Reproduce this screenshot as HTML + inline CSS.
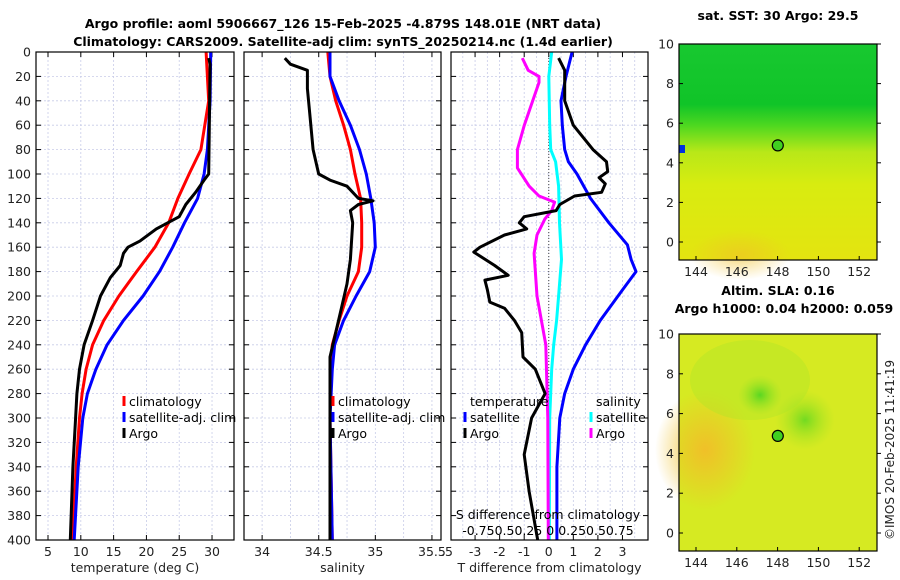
<!DOCTYPE html>
<html><head><meta charset="utf-8"><style>
html,body{margin:0;padding:0;background:#fff;}
svg{display:block;font-family:"DejaVu Sans","Liberation Sans",sans-serif;}
</style></head><body>
<svg id="c" width="900" height="580" viewBox="0 0 900 580">
<text x="343" y="28" font-size="12.5" font-weight="bold" text-anchor="middle">Argo profile: aoml 5906667_126 15-Feb-2025 -4.879S 148.01E (NRT data)</text>
<text x="343" y="46" font-size="12.5" font-weight="bold" text-anchor="middle">Climatology: CARS2009. Satellite-adj clim: synTS_20250214.nc (1.4d earlier)</text>
<text x="778" y="20" font-size="12.5" font-weight="bold" text-anchor="middle">sat. SST: 30 Argo: 29.5</text>
<text x="778" y="295" font-size="12.5" font-weight="bold" text-anchor="middle">Altim. SLA: 0.16</text>
<text x="784" y="313" font-size="12.5" font-weight="bold" text-anchor="middle">Argo h1000: 0.04 h2000: 0.059</text>
<text x="0" y="0" font-size="12" transform="translate(894,540) rotate(-90)" fill="#222">©IMOS 20-Feb-2025 11:41:19</text>
<g id="g"></g>
</svg>
<script>
const depthTicks=[0,20,40,60,80,100,120,140,160,180,200,220,240,260,280,300,320,340,360,380,400];
const tempTicks=[5,10,15,20,25,30];
const salTicks=[34,34.5,35,35.5];
const tdTicks=[-3,-2,-1,0,1,2,3];
const sdTickLabels=["-0.75","0.5","0.25","0","0.25","0.5","0.75"];
// temperature profiles [depth,value]
const tClimDepth=[0,40,80,100,120,140,160,180,200,220,240,260,280,300,340,400];
const tClimVal=[29.1,29.5,28.3,26.5,24.8,23.4,21.3,18.5,15.8,13.5,11.8,10.8,10.2,9.8,9.3,8.7];
const tSatDepth=[0,40,80,100,120,140,160,180,200,220,240,260,280,300,340,400];
const tSatVal=[29.8,29.7,29.3,28.8,27.8,25.8,24.0,22.0,19.5,16.5,14.0,12.3,11.0,10.3,9.6,9.0];
const tArgoDepth=[5,10,100,105,115,125,135,145,155,160,165,175,185,200,220,240,260,280,300,340,400];
const tArgoVal=[29.5,29.7,29.5,28.8,27.5,26.0,25.0,21.5,19.0,17.2,16.5,16.0,14.5,13.0,11.8,10.5,9.8,9.4,9.2,8.8,8.4];
// salinity
const sClimDepth=[0,20,40,60,80,100,120,140,160,180,200,220,240,260,300,400];
const sClimVal=[34.58,34.6,34.65,34.72,34.78,34.82,34.87,34.88,34.88,34.85,34.75,34.68,34.62,34.6,34.6,34.62];
const sSatDepth=[0,20,40,60,80,100,120,140,160,180,200,220,240,260,300,400];
const sSatVal=[34.6,34.6,34.68,34.78,34.86,34.92,34.96,34.99,35.0,34.95,34.83,34.72,34.64,34.62,34.6,34.62];
const sArgoDepth=[5,10,15,30,50,80,100,105,110,120,122,125,130,140,170,190,210,230,250,280,400];
const sArgoVal=[34.2,34.25,34.4,34.4,34.42,34.45,34.5,34.6,34.75,34.85,34.98,34.85,34.78,34.8,34.78,34.75,34.7,34.65,34.6,34.6,34.6];
// differences
const dTSatDepth=[0,20,40,60,80,90,100,120,140,158,170,180,195,220,240,260,280,300,340,400];
const dTSatVal=[0.95,0.7,0.5,0.55,0.65,0.8,1.15,1.7,2.45,3.2,3.35,3.55,3.0,2.1,1.5,1.0,0.65,0.45,0.33,0.33];
const dTArgoDepth=[5,15,40,60,80,90,98,103,108,115,118,125,130,135,140,145,150,160,164,175,183,187,195,205,210,220,230,250,260,280,300,330,360,400];
const dTArgoVal=[0.4,0.65,0.65,1.0,1.8,2.35,2.4,2.05,2.3,2.15,1.05,0.45,0.3,-1.0,-1.2,-0.9,-1.8,-2.8,-3.05,-2.2,-1.65,-2.6,-2.5,-2.4,-1.8,-1.4,-1.1,-1.05,-0.55,-0.15,-0.7,-1.0,-0.8,-0.45];
const dSSatDepth=[0,20,60,80,90,110,140,170,200,220,240,260,300,400];
const dSSatVal=[0.03,0.0,0.01,0.02,0.07,0.1,0.11,0.13,0.1,0.08,0.05,0.03,0.01,0.005];
const dSArgoDepth=[5,15,20,25,60,80,95,110,118,123,130,137,150,165,200,240,300,400];
const dSArgoVal=[-0.27,-0.21,-0.1,-0.1,-0.25,-0.32,-0.32,-0.2,-0.1,0.06,0.03,-0.04,-0.12,-0.15,-0.12,-0.03,-0.01,-0.005];
const mapLonTicks=[144,146,148,150,152];
const mapLatTicks=[0,2,4,6,8,10];
const argoLon=148.01, argoLat=-4.879;

const NS="http://www.w3.org/2000/svg";
const G=document.getElementById('g');
function mk(t,a,p){const e=document.createElementNS(NS,t);for(const k in a)e.setAttribute(k,a[k]);(p||G).appendChild(e);return e;}
const Y0=52,Y1=540;
const yD=d=>Y0+(Y1-Y0)*d/400;
const panels=[
 {x0:36,x1:234,min:3.17,max:33.35,ticks:tempTicks,label:'temperature (deg C)',name:'temperature'},
 {x0:244,x1:441,min:33.84,max:35.58,ticks:salTicks,label:'salinity',name:'salinity'},
 {x0:451,x1:648,min:-3.98,max:4.04,ticks:tdTicks,label:'T difference from climatology',name:'difference'}
];
function xf(p){return v=>p.x0+(p.x1-p.x0)*(v-p.min)/(p.max-p.min);}
panels.forEach((p,i)=>{
 const X=xf(p);
 const g=mk('g',{});
 
 
 // grid
 const gridX=i==0?[5,10,15,20,25,30]:i==1?[34,34.25,34.5,34.75,35,35.25,35.5]:[-3.5,-3,-2.5,-2,-1.5,-1,-0.5,0,0.5,1,1.5,2,2.5,3,3.5];
 gridX.forEach(v=>{const l=mk('line',{x1:X(v),x2:X(v),y1:Y0,y2:Y1,stroke:'#c8cce8','stroke-width':0.8,'stroke-dasharray':'2,2'},g);});
 depthTicks.forEach(d=>{const l=mk('line',{x1:p.x0,x2:p.x1,y1:yD(d),y2:yD(d),stroke:'#c8cce8','stroke-width':0.8,'stroke-dasharray':'2,2'},g);});
 // ticks
 depthTicks.forEach(d=>{mk('line',{x1:p.x0,x2:p.x0+5,y1:yD(d),y2:yD(d),stroke:'#000'},g);mk('line',{x1:p.x1-5,x2:p.x1,y1:yD(d),y2:yD(d),stroke:'#000'},g);
  if(i==0){const t=mk('text',{x:p.x0-5,y:yD(d)+4.5,'font-size':12.5,'text-anchor':'end',fill:'#222'},g);t.textContent=d;}});
 p.ticks.forEach(v=>{mk('line',{x1:X(v),x2:X(v),y1:Y0,y2:Y0+5,stroke:'#000'},g);mk('line',{x1:X(v),x2:X(v),y1:Y1-5,y2:Y1,stroke:'#000'},g);
  const t=mk('text',{x:X(v),y:556,'font-size':12.5,'text-anchor':'middle',fill:'#222'},g);t.textContent=v;});
 const xl=mk('text',{x:(p.x0+p.x1)/2,y:572,'font-size':12.5,'text-anchor':'middle',fill:'#222'},g);xl.textContent=p.label;
 
 p.X=X;p.g=g;
});
// left edge label of diff axis
{const t=mk('text',{x:447,y:556,'font-size':12.5,'text-anchor':'middle',fill:'#222'});t.textContent='.5';}
function line(ds,vs,X,col,name,w){
 const pts=ds.map((d,k)=>X(vs[k]).toFixed(1)+','+yD(d).toFixed(1)).join(' ');
 const e=mk('polyline',{points:pts,fill:'none',stroke:col,'stroke-width':w||3,'stroke-linejoin':'round'});
 
}
const XT=panels[0].X,XS=panels[1].X,XD=panels[2].X;
const XSd=v=>XD(0)+v*98;
line(tClimDepth,tClimVal,XT,'#f00','temp-climatology-line');
line(tSatDepth,tSatVal,XT,'#00f','temp-satellite-line');
line(tArgoDepth,tArgoVal,XT,'#000','temp-argo-line');
line(sClimDepth,sClimVal,XS,'#f00','sal-climatology-line');
line(sSatDepth,sSatVal,XS,'#00f','sal-satellite-line');
line(sArgoDepth,sArgoVal,XS,'#000','sal-argo-line');
{const z=mk('line',{x1:XD(0),x2:XD(0),y1:Y0,y2:Y1,stroke:'#444','stroke-width':1,'stroke-dasharray':'1,2'});}
line(dTSatDepth,dTSatVal,XD,'#00f','tdiff-satellite-line');
line(dSSatDepth,dSSatVal,XSd,'#0ff','sdiff-satellite-line');
line(dSArgoDepth,dSArgoVal,XSd,'#f0f','sdiff-argo-line');
line(dTArgoDepth,dTArgoVal,XD,'#000','tdiff-argo-line');
// panel frames
panels.forEach(p=>{const r=mk('rect',{x:p.x0,y:Y0,width:p.x1-p.x0,height:Y1-Y0,fill:'none',stroke:'#000','stroke-width':1.2});});
// legends
function leg(x,y,col,txt,name){const m=mk('line',{x1:x,x2:x,y1:y-10,y2:y,stroke:col,'stroke-width':3});
 const t=mk('text',{x:x+5,y:y,'font-size':12.5,fill:'#000'});t.textContent=txt;}
leg(124,406,'#f00','climatology','legend-climatology');
leg(124,422,'#00f','satellite-adj. clim','legend-satellite');
leg(124,438,'#000','Argo','legend-argo');
leg(333,406,'#f00','climatology','legend-sal-climatology');
leg(333,422,'#00f','satellite-adj. clim','legend-sal-satellite');
leg(333,438,'#000','Argo','legend-sal-argo');
{const t=mk('text',{x:470,y:406,'font-size':12.5});t.textContent='temperature';
 const u=mk('text',{x:596,y:406,'font-size':12.5});u.textContent='salinity';}
leg(465,422,'#00f','satellite','legend-tdiff-satellite');
leg(465,438,'#000','Argo','legend-tdiff-argo');
leg(591,422,'#0ff','satellite','legend-sdiff-satellite');
leg(591,438,'#f0f','Argo','legend-sdiff-argo');
{const t=mk('text',{x:548,y:519,'font-size':12.5,'text-anchor':'middle'});t.textContent='S difference from climatology';
 const u=mk('text',{x:548,y:535,'font-size':12.5,'text-anchor':'middle'});u.textContent='-0.750.50.25 0 0.250.50.75';}
// maps
const defs=mk('defs',{});
defs.innerHTML='<linearGradient id="sst" x1="0" y1="0" x2="0" y2="1"><stop offset="0" stop-color="#18c830"/><stop offset="0.28" stop-color="#10c428"/><stop offset="0.38" stop-color="#50d820"/><stop offset="0.5" stop-color="#b8e818"/><stop offset="0.65" stop-color="#d8ec10"/><stop offset="1" stop-color="#e4e410"/></linearGradient>'+
'<radialGradient id="org" cx="0.5" cy="0.5" r="0.5"><stop offset="0" stop-color="#f0c028"/><stop offset="1" stop-color="#f0c028" stop-opacity="0"/></radialGradient>'+
'<radialGradient id="grn" cx="0.5" cy="0.5" r="0.5"><stop offset="0" stop-color="#30d020"/><stop offset="1" stop-color="#90e020" stop-opacity="0"/></radialGradient>';
function map(top,bot,name,fill){
 const L=679,R=877;const lon=v=>696+(v-144)*20.4;const lat=v=>(top)+ (10-v)*((bot-top-18)/10);
 const g=mk('g',{});
 mk('rect',{x:L,y:top,width:R-L,height:bot-top,fill:fill},g);
 return {g,lon,lat,L,R,top,bot};
}
function mapAxes(m){
 const g=m.g;
 mk('rect',{x:m.L,y:m.top,width:m.R-m.L,height:m.bot-m.top,fill:'none',stroke:'#000','stroke-width':1.2},g);
 mapLonTicks.forEach(v=>{mk('line',{x1:m.lon(v),x2:m.lon(v),y1:m.bot,y2:m.bot-4,stroke:'#000'},g);
  const t=mk('text',{x:m.lon(v),y:m.bot+16,'font-size':12.5,'text-anchor':'middle',fill:'#222'},g);t.textContent=v;});
 mapLatTicks.forEach(v=>{mk('line',{x1:m.L,x2:m.L+4,y1:m.lat(v),y2:m.lat(v),stroke:'#000'},g);mk('line',{x1:m.R,x2:m.R+4,y1:m.lat(v),y2:m.lat(v),stroke:'#000'},g);
  const t=mk('text',{x:m.L-5,y:m.lat(v)+4.5,'font-size':12.5,'text-anchor':'end',fill:'#222'},g);t.textContent=v;});
 const c=mk('circle',{cx:m.lon(argoLon),cy:m.lat(-argoLat),r:5.5,fill:'#40d020',stroke:'#000','stroke-width':1.2},g);
 
}
const m1=map(44,260,'sst-map','url(#sst)');
mk('rect',{x:679,y:145,width:6,height:8,fill:'#0030e0'},m1.g);
mk('rect',{x:685,y:165,width:0,height:0},m1.g);
mk('ellipse',{cx:740,cy:255,rx:50,ry:25,fill:'url(#org)',opacity:0.6},m1.g);
mapAxes(m1);
const m2=map(334,551,'sla-map','#d6ea22');
mk('ellipse',{cx:705,cy:450,rx:50,ry:60,fill:'url(#org)'},m2.g);
mk('ellipse',{cx:760,cy:395,rx:22,ry:20,fill:'url(#grn)'},m2.g);
mk('ellipse',{cx:805,cy:420,rx:30,ry:30,fill:'url(#grn)',opacity:0.6},m2.g);
mk('ellipse',{cx:750,cy:380,rx:60,ry:40,fill:'#a8e428',opacity:0.35},m2.g);
mapAxes(m2);
</script>
</body></html>
